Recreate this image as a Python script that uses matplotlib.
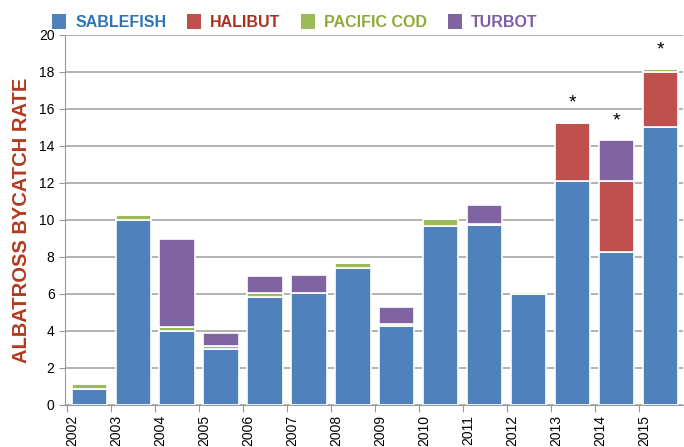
import numpy as np
from matplotlib import pyplot as plt
from matplotlib.patches import Patch

years = ['2002', '2003', '2004', '2005', '2006', '2007', '2008',
         '2009', '2010', '2011', '2012', '2013', '2014', '2015']
sablefish = [0.85, 10.0, 4.0, 3.0, 5.85, 6.05, 7.4, 4.25, 9.65, 9.7, 6.0, 12.1, 8.25, 15.0]
halibut   = [0, 0, 0, 0, 0, 0, 0, 0, 0, 0, 0, 3.15, 3.85, 3.0]
cod       = [0.3, 0.25, 0.2, 0.2, 0.2, 0.0, 0.25, 0.1, 0.4, 0.1, 0.12, 0, 0, 0.15]
turbot    = [0, 0, 4.75, 0.7, 0.9, 0.95, 0, 0.95, 0, 1.0, 0, 0, 2.2, 0]
starred   = ['2013', '2014', '2015']

names = ['SABLEFISH', 'HALIBUT', 'PACIFIC COD', 'TURBOT']
colors = ['#4F81BD', '#C0504D', '#9BBB59', '#8064A2']
text_colors = ['#2E73B8', '#A8301C', '#8DAA3A', '#7C5EA3']

plt.rcParams['font.family'] = ['Liberation Sans', 'DejaVu Sans']

fig = plt.figure(figsize=(6.84, 4.47), dpi=100)
ax = fig.add_axes([0.095, 0.094, 0.903, 0.828])

x = np.arange(len(years))
bottom = np.zeros(len(years))
for vals, c in zip([sablefish, halibut, cod, turbot], colors):
    vals = np.array(vals)
    ax.bar(x, vals, 0.8, bottom=bottom, color=c, edgecolor='white', linewidth=1.2, zorder=3)
    bottom += vals

# asterisks over the last years
for y in starred:
    i = years.index(y)
    ax.text(i, bottom[i] + 0.6, '*', ha='center', va='bottom', fontsize=14, zorder=4)

ax.set_ylim(0, 20)
ax.set_xlim(-0.55, len(years) - 0.5)
ax.set_yticks(range(0, 21, 2))
# tick marks at category boundaries, labels just right of them
ax.set_xticks(x - 0.5)
ax.set_xticklabels([])
ax.set_xticks(x - 0.38, minor=True)
ax.set_xticklabels(years, minor=True, rotation=90, fontsize=10)
ax.tick_params(axis='x', which='minor', length=0, pad=7)
ax.tick_params(axis='y', labelsize=10, length=4, color='#999999')
ax.tick_params(axis='x', which='major', length=5, color='#999999')
ax.yaxis.grid(True, color='#A6A6A6', linewidth=1.2, zorder=0)
for s in ['top', 'right']:
    ax.spines[s].set_visible(False)
for s in ['left', 'bottom']:
    ax.spines[s].set_color('#999999')

ax.set_ylabel('ALBATROSS BYCATCH RATE', fontsize=14.5, fontweight='bold', color='#B23A1E', labelpad=6)

handles = [Patch(facecolor=c) for c in colors]
leg = fig.legend(handles, names, loc='upper left', bbox_to_anchor=(0.055, 1.0), ncol=4,
                 frameon=False, prop={'size': 11.5, 'weight': 'bold'},
                 handlelength=0.85, handleheight=1.05, handletextpad=0.6, columnspacing=1.3)
for t, c in zip(leg.get_texts(), text_colors):
    t.set_color(c)

fig.savefig('out.png', dpi=100)
